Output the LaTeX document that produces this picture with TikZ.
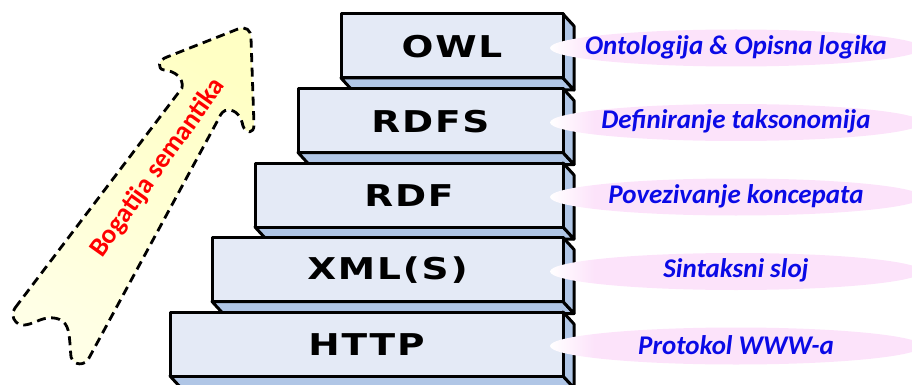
\documentclass[tikz,border=0pt]{standalone}
\usepackage{fontspec}
\setmainfont{Carlito}
\newfontfamily\boxfont[FakeStretch=1.25,LetterSpace=6]{DejaVu Sans}
\usetikzlibrary{shapes.geometric}
\definecolor{boxfront}{HTML}{E4EAF6}
\definecolor{boxside}{HTML}{B0C6E6}
\definecolor{pinkA}{HTML}{FCE3FA}
\definecolor{lblue}{HTML}{0A0AE6}
\definecolor{arrowY}{HTML}{FFFFC4}
\definecolor{arrowY2}{HTML}{FFFFE6}
\pgfdeclarehorizontalshading{pinkfade}{100bp}{color(0bp)=(white); color(25bp)=(white); color(31bp)=(pinkA); color(100bp)=(pinkA)}
\tikzset{
  boxline/.style={draw=black, line width=3pt, line join=round},
  boxlabel/.style={font=\boxfont\bfseries\fontsize{30}{30}\selectfont, inner sep=0pt, anchor=center},
  pinkell/.style={ellipse, shading=pinkfade, draw=none, minimum width=372pt, minimum height=37pt, inner sep=0pt},
  elltext/.style={font=\bfseries\itshape\fontsize{27}{27}\selectfont, text=lblue},
  semarrow/.style={draw=black, line width=2.8pt, dash pattern=on 9pt off 5.5pt, line join=round,
     top color=arrowY, bottom color=arrowY2, shading angle=-30},
}
\begin{document}
\begin{tikzpicture}[x=1pt,y=-1pt]
\useasboundingbox (0,0) rectangle (912,385);
% arrow
\path[semarrow] (15,308) -- (182,88) .. controls (184,78) and (175,71) .. (164,70)
  .. controls (157,69) and (158,60) .. (167,57) -- (238,29)
  .. controls (246,26) and (251,30) .. (251,38) -- (254,125)
  .. controls (254,134) and (246,134) .. (243,126)
  .. controls (241,116) and (236,110) .. (228,110)
  .. controls (224,110) and (221,113) .. (219,118) -- (89,358)
  .. controls (85,366) and (74,366) .. (71,357)
  .. controls (70,347) and (70,334) .. (67,327)
  .. controls (63,317) and (50,316) .. (40,320)
  .. controls (30,324) and (22,328) .. (16,322)
  .. controls (12,318) and (12,312) .. (15,308) -- cycle;
\node[text=red, font=\bfseries\fontsize{27}{27}\selectfont, rotate=54.5] (sem) at (158,168) {Bogatija semantika};
% boxes
\foreach \n/\L/\T/\txt in {owl/341/14/OWL, rdfs/298/88.5/RDFS, rdf/255/163/RDF, xml/212/237.5/XML(S), http/170/312/HTTP}{
  \filldraw[boxline, fill=boxside] (\L,\T+64) -- (\L+11,\T+76) -- (574,\T+76) -- (563,\T+64) -- cycle;
  \filldraw[boxline, fill=boxside] (563,\T) -- (574,\T+12) -- (574,\T+76) -- (563,\T+64) -- cycle;
  \filldraw[boxline, fill=boxfront] (\L,\T) rectangle (563,\T+64);
  \node[boxlabel] (\n) at ({(\L+563)/2},\T+33) {\txt};
}
% ellipses
\foreach \n/\T/\txt in {owl/14/{Ontologija \& Opisna logika}, rdfs/88.5/{Definiranje taksonomija}, rdf/163/{Povezivanje koncepata}, xml/237.5/{Sintaksni sloj}, http/312/{Protokol WWW-a}}{
  \node[pinkell] (e\n) at (736,\T+34) {};
  \node[elltext] (t\n) at (736,\T+33) {\txt};
}
\end{tikzpicture}
\end{document}
